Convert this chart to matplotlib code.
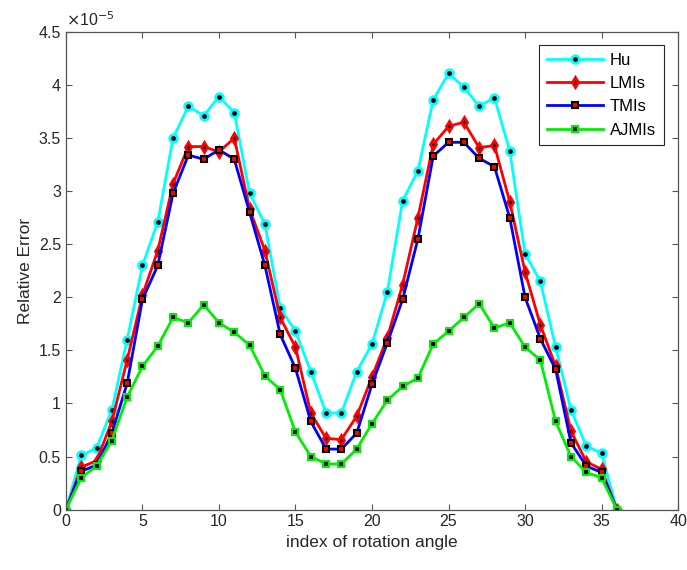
import numpy as np
import matplotlib
matplotlib.use("Agg")
import matplotlib.pyplot as plt
from matplotlib.ticker import FuncFormatter

plt.rcParams['font.family'] = ['Liberation Sans', 'DejaVu Sans']

# data (units of 1e-5)
idx = list(range(37))
hu = [0, 0.51, 0.58, 0.94, 1.60, 2.30, 2.71, 3.50, 3.80, 3.71, 3.89, 3.74, 2.98, 2.69, 1.90, 1.68, 1.30, 0.91, 0.91,
      1.30, 1.56, 2.05, 2.91, 3.19, 3.86, 4.11, 3.98, 3.80, 3.88, 3.38, 2.41, 2.15, 1.53, 0.94, 0.60, 0.53, 0]
lmis = [0, 0.40, 0.46, 0.83, 1.41, 2.02, 2.44, 3.07, 3.42, 3.42, 3.37, 3.50, 2.83, 2.44, 1.81, 1.53, 0.91, 0.67, 0.66,
        0.88, 1.25, 1.62, 2.12, 2.75, 3.44, 3.61, 3.65, 3.41, 3.43, 2.90, 2.24, 1.74, 1.35, 0.74, 0.45, 0.38, 0]
tmis = [0, 0.36, 0.42, 0.72, 1.19, 1.98, 2.30, 2.98, 3.34, 3.30, 3.39, 3.30, 2.80, 2.30, 1.65, 1.33, 0.83, 0.57, 0.57,
        0.72, 1.18, 1.57, 1.98, 2.55, 3.33, 3.46, 3.46, 3.31, 3.23, 2.75, 2.00, 1.61, 1.32, 0.63, 0.41, 0.35, 0]
ajmis = [0, 0.30, 0.41, 0.65, 1.06, 1.35, 1.54, 1.81, 1.76, 1.93, 1.76, 1.67, 1.55, 1.26, 1.13, 0.73, 0.50, 0.43, 0.43,
         0.57, 0.81, 1.03, 1.16, 1.24, 1.56, 1.68, 1.81, 1.94, 1.71, 1.76, 1.53, 1.41, 0.83, 0.50, 0.35, 0.30, 0]

scale = 1e-5
fig = plt.figure(figsize=(6.87, 5.70), dpi=100)
ax = fig.add_axes([0.096, 0.106, 0.891, 0.838])

ax.plot(idx, np.array(hu) * scale, '-o', color='cyan', lw=2, ms=5.5, mec='cyan', mfc='black', mew=2, label='Hu')
ax.plot(idx, np.array(lmis) * scale, '-d', color='red', lw=2, ms=5.5, mec='red', mfc='black', mew=2, label='LMIs')
ax.plot(idx, np.array(tmis) * scale, '-s', color='blue', lw=2, ms=5, mec='black', mfc='red', mew=1.5, label='TMIs')
ax.plot(idx, np.array(ajmis) * scale, '-s', color='#00ee00', lw=2, ms=5, mec='#00ee00', mfc='black', mew=1.5, label='AJMIs')

ax.set_xlim(0, 40)
ax.set_ylim(0, 4.5e-5)
ax.set_xticks(range(0, 41, 5))
ax.set_yticks(np.arange(0, 4.51, 0.5) * scale)
ax.yaxis.set_major_formatter(FuncFormatter(lambda v, p: '%g' % round(v / scale, 2)))
ax.text(0.0, 1.006, r'$\times$10$^{-5}$', transform=ax.transAxes, fontsize=11.5, color='#262626',
        ha='left', va='bottom')

ax.tick_params(direction='in', top=True, right=True, labelsize=11.5, labelcolor='#262626', color='#555555', length=4)
for s in ax.spines.values():
    s.set_color('#555555')
    s.set_linewidth(0.9)

ax.set_xlabel('index of rotation angle', fontsize=12.5, color='#262626')
ax.set_ylabel('Relative Error', fontsize=12.5, color='#262626')

leg = ax.legend(loc='upper right', bbox_to_anchor=(0.99, 0.99), fontsize=12, fancybox=False,
                edgecolor='#262626', framealpha=1, handlelength=3.4, borderpad=0.45, labelspacing=0.5,
                handletextpad=0.4)
leg.get_frame().set_linewidth(0.8)

fig.savefig('out.png', dpi=100)
